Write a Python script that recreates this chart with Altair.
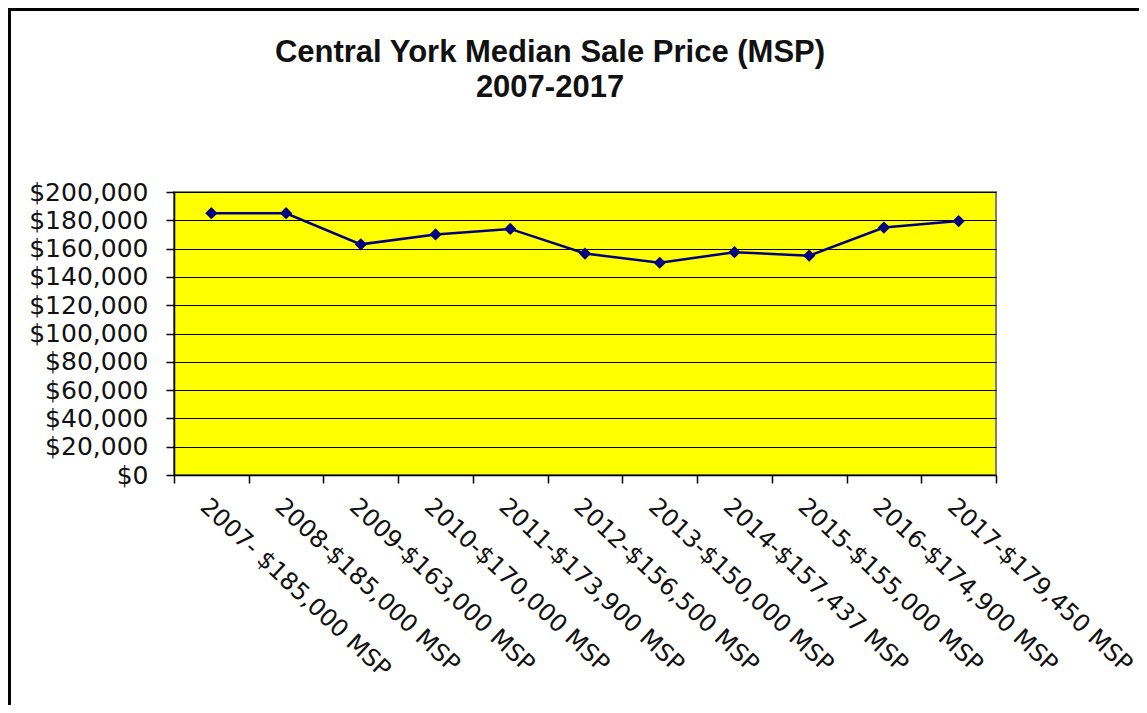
import altair as alt
import pandas as pd

# ---- data ----
categories = [
    "2007- $185,000 MSP",
    "2008-$185,000 MSP",
    "2009-$163,000 MSP",
    "2010-$170,000 MSP",
    "2011-$173,900 MSP",
    "2012-$156,500 MSP",
    "2013-$150,000 MSP",
    "2014-$157,437 MSP",
    "2015-$155,000 MSP",
    "2016-$174,900 MSP",
    "2017-$179,450 MSP",
]
prices = [185000, 185000, 163000, 170000, 173900, 156500, 150000, 157437, 155000, 174900, 179450]
y_ticks = [0, 20000, 40000, 60000, 80000, 100000, 120000, 140000, 160000, 180000, 200000]
title_lines = ["Central York Median Sale Price (MSP)", "2007-2017"]

df = pd.DataFrame({"label": categories, "price": prices})

NAVY = "#000080"
LABEL_FONT = "DejaVu Sans"

x_enc = alt.X(
    "label:N",
    sort=categories,
    scale=alt.Scale(type="band", paddingInner=0, paddingOuter=0),
    axis=alt.Axis(
        title=None,
        labelAngle=43,
        labelAlign="left",
        labelBaseline="top",
        labelFont=LABEL_FONT,
        labelFontSize=24,
        labelColor="#111111",
        labelLimit=0,
        labelOverlap=False,
        labelPadding=11,
        tickBand="extent",
        tickSize=8,
        tickColor="black",
        tickWidth=1.5,
        domainColor="black",
        domainWidth=1.5,
    ),
)
y_enc = alt.Y(
    "price:Q",
    scale=alt.Scale(domain=[y_ticks[0], y_ticks[-1]], nice=False),
    axis=alt.Axis(
        title=None,
        values=y_ticks,
        format="$,.0f",
        labelFont=LABEL_FONT,
        labelFontSize=25,
        labelColor="#111111",
        labelPadding=18,
        tickSize=8,
        tickColor="black",
        tickWidth=1.5,
        domainColor="black",
        domainWidth=1.5,
        grid=True,
        gridColor="black",
        gridWidth=1.2,
    ),
)

base = alt.Chart(df).encode(x=x_enc, y=y_enc)
line = base.mark_line(color=NAVY, strokeWidth=2.5)
pts = base.mark_point(shape="diamond", filled=True, size=150, color=NAVY, opacity=1)

frame_df = pd.DataFrame({"k": [0]})
top_border = alt.Chart(frame_df).mark_rule(color="black", strokeWidth=3).encode(
    x=alt.value(-166), x2=alt.value(980), y=alt.value(-182.5)
)
left_border = alt.Chart(frame_df).mark_rule(color="black", strokeWidth=3).encode(
    x=alt.value(-164.5), y=alt.value(-190), y2=alt.value(520)
)

chart = (
    alt.layer(line, pts, top_border, left_border)
    .properties(
        width=822,
        height=283,
        background="white",
        autosize=alt.AutoSizeParams(type="none"),
        padding={"left": 166, "top": 184, "right": 143, "bottom": 230},
        title=alt.TitleParams(
            text=title_lines,
            anchor="middle",
            frame="group",
            font="Liberation Sans",
            fontSize=31,
            fontWeight="bold",
            color="#111111",
            lineHeight=35,
            dx=-35,
            dy=107,
        ),
    )
    .configure_view(fill="#FFFF00", stroke="#808070", strokeWidth=2)
)

chart.save("out.html", embed_options={"renderer": "svg", "actions": False})
